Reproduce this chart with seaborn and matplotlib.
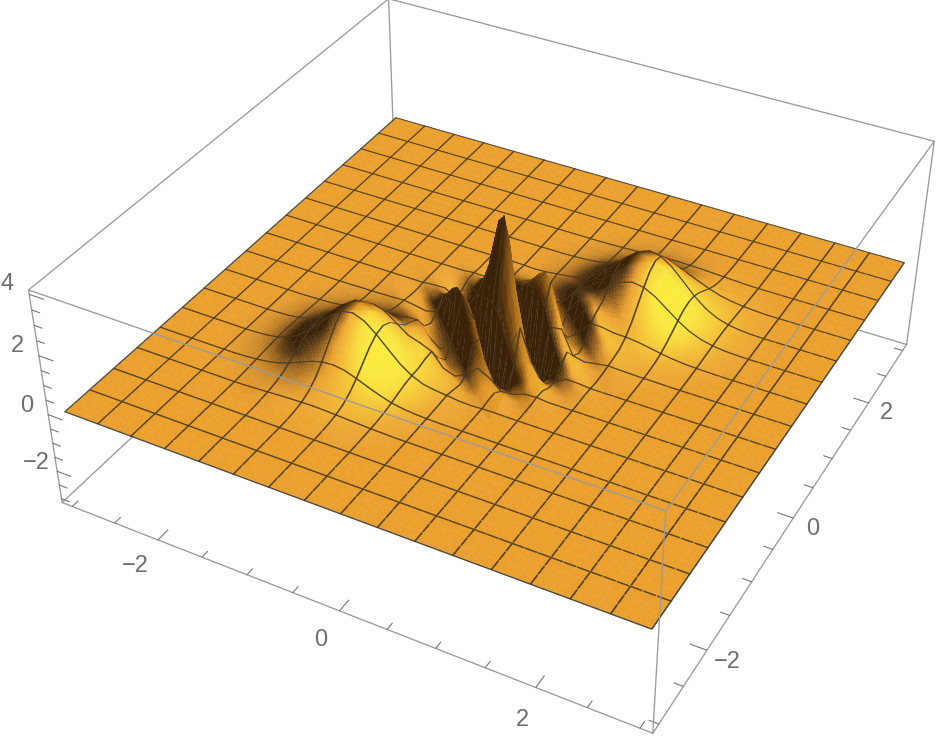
import numpy as np
import matplotlib
matplotlib.use("Agg")
import matplotlib.pyplot as plt
import seaborn as sns
from mpl_toolkits.mplot3d import proj3d
from mpl_toolkits.mplot3d.art3d import Poly3DCollection

sns.set_theme(style="white")
plt.rcParams['font.family'] = ['Liberation Sans', 'DejaVu Sans']

# surface height, on a lattice along the line through the
# two humps (u = x + y) and across it (v = x - y), both in steps of 1/8.
# rows are v = 0, 1/8, 2/8 ...; even rows hold u = 0, 2/8 ..., odd rows u = 1/8, 3/8 ...
height_rows = [
    [4.00, -2.99, 1.23, 0.04, -0.04, 0.68, 1.00, 1.60, 1.89, 1.75, 1.27, 0.71, 0.31, 0.11, 0.03],
    [0.93, -1.99, 1.70, -0.34, 0.55, 0.72, 1.28, 1.73, 1.82, 1.49, 0.95, 0.47, 0.18, 0.06, 0.01],
    [3.53, -2.64, 1.09, 0.04, -0.04, 0.60, 0.88, 1.41, 1.67, 1.54, 1.12, 0.63, 0.27, 0.10, 0.03],
    [0.72, -1.55, 1.32, -0.27, 0.43, 0.56, 1.00, 1.35, 1.42, 1.16, 0.74, 0.37, 0.14, 0.05, 0.01],
    [2.43, -1.81, 0.75, 0.02, -0.02, 0.41, 0.61, 0.97, 1.15, 1.06, 0.77, 0.43, 0.19, 0.07, 0.02],
    [0.44, -0.94, 0.80, -0.16, 0.26, 0.34, 0.60, 0.82, 0.86, 0.71, 0.45, 0.22, 0.09, 0.03, 0.00],
    [1.30, -0.97, 0.40, 0.01, -0.01, 0.22, 0.33, 0.52, 0.61, 0.57, 0.41, 0.23, 0.10, 0.04, 0.01],
    [0.21, -0.44, 0.38, -0.08, 0.12, 0.16, 0.29, 0.39, 0.41, 0.33, 0.21, 0.11, 0.04, 0.01, 0.00],
    [0.54, -0.40, 0.17, 0.01, -0.01, 0.09, 0.14, 0.22, 0.26, 0.24, 0.17, 0.10, 0.04, 0.01, 0.00],
    [0.08, -0.16, 0.14, -0.03, 0.05, 0.06, 0.11, 0.14, 0.15, 0.12, 0.08, 0.04, 0.02, 0.00, 0.00],
    [0.17, -0.13, 0.05, 0.00, 0.00, 0.03, 0.04, 0.07, 0.08, 0.08, 0.06, 0.03, 0.01, 0.00, 0.00],
    [0.02, -0.05, 0.04, -0.02, 0.01, 0.02, 0.03, 0.04, 0.04, 0.04, 0.02, 0.01, 0.00, 0.00, 0.00],
    [0.04, -0.03, 0.01, 0.00, 0.00, 0.01, 0.01, 0.02, 0.02, 0.02, 0.01, 0.01, 0.00, 0.00, 0.00],
    [0.00, -0.01, 0.01, 0.00, 0.00, 0.00, 0.01, 0.01, 0.01, 0.01, 0.00, 0.00, 0.00, 0.00, 0.00],
]
x_values = np.arange(49) / 8 - 3
y_values = np.arange(49) / 8 - 3
x_ticks = np.arange(-3, 3.01, 0.5)
y_ticks = np.arange(-3, 3.01, 0.5)
z_ticks = np.arange(-3, 4.01, 0.5)
x_labels = [-2, 0, 2]
y_labels = [-2, 0, 2]
z_labels = [-2, 0, 2, 4]
mesh_every = 3

# fill the square from the rows, the surface is mirrored in both u and v
n = len(x_values)
Z = np.zeros((n, n))
for i in range(n):
    for j in range(n):
        k = abs(i + j - (n - 1))
        m = abs(i - j)
        pos = (k - m % 2) // 2
        if m < len(height_rows) and pos < len(height_rows[m]):
            Z[i, j] = height_rows[m][pos]
X, Y = np.meshgrid(x_values, y_values, indexing='ij')

xlim = (-3.12, 3.12)
ylim = (-3.12, 3.12)
zlim = (-3.14, 4.14)
elev, azim = 36.2, -61.6

fig = plt.figure(figsize=(9.37, 7.41), dpi=100)
ax = fig.add_axes([32.6 / 937, -49.9 / 741, 918 / 937, 918 / 741], projection='3d', computed_zorder=False)
ax.set_box_aspect((1, 1, 0.4))
ax.set_proj_type('persp', focal_length=0.439)
ax.view_init(elev=elev, azim=azim)
ax.set_xlim(xlim)
ax.set_ylim(ylim)
ax.set_zlim(zlim)
ax.set_axis_off()

cmap = sns.blend_palette(['#3a2208', '#96601a', '#eba02d', '#f5c332', '#faeb3c'], as_cmap=True)

# lighting from the slopes at each lattice point
z_world = 0.4 * (xlim[1] - xlim[0]) / (zlim[1] - zlim[0])
dx = x_values[1] - x_values[0]
dzdx = np.gradient(Z, dx, axis=0) * z_world
dzdy = np.gradient(Z, dx, axis=1) * z_world
norm = np.sqrt(dzdx ** 2 + dzdy ** 2 + 1)
nx, ny = -dzdx / norm, -dzdy / norm
nu = (nx + ny) / np.sqrt(2)
nv = (nx - ny) / np.sqrt(2)
# steepest step to a neighbour, so the narrow crests go dark as well
step_x = np.abs(np.diff(Z, axis=0)) / dx * z_world
step_y = np.abs(np.diff(Z, axis=1)) / dx * z_world
steep = np.zeros_like(Z)
steep[:-1, :] = np.maximum(steep[:-1, :], step_x)
steep[1:, :] = np.maximum(steep[1:, :], step_x)
steep[:, :-1] = np.maximum(steep[:, :-1], step_y)
steep[:, 1:] = np.maximum(steep[:, 1:], step_y)
nz_steep = 1 / np.sqrt(1 + steep ** 2)
shade = np.clip(0.5 + 1.0 * nv + 0.45 * nu - 0.75 * (1 - nz_steep), 0, 1)


def add_tri(a, b, c, polys, cols, parts=4):
    # a, b, c are lattice index pairs; the flat facet is cut up only so its colour can vary
    pa = np.array([X[a], Y[a], Z[a]])
    pb = np.array([X[b], Y[b], Z[b]])
    pc = np.array([X[c], Y[c], Z[c]])
    sa, sb, sc = shade[a], shade[b], shade[c]
    if max(sa, sb, sc) - min(sa, sb, sc) < 0.02:
        polys.append([pa, pb, pc])
        cols.append(cmap((sa + sb + sc) / 3))
        return
    for p in range(parts):
        for q in range(parts - p):
            w1 = np.array([p, q, parts - p - q]) / parts
            w2 = np.array([p + 1, q, parts - p - q - 1]) / parts
            w3 = np.array([p, q + 1, parts - p - q - 1]) / parts
            tri = [w[0] * pa + w[1] * pb + w[2] * pc for w in (w1, w2, w3)]
            mid = (w1 + w2 + w3) / 3
            polys.append(tri)
            cols.append(cmap(mid[0] * sa + mid[1] * sb + mid[2] * sc))
            if p + q < parts - 1:
                w4 = np.array([p + 1, q + 1, parts - p - q - 2]) / parts
                tri = [w[0] * pa + w[1] * pb + w[2] * pc for w in (w2, w4, w3)]
                mid = (w2 + w4 + w3) / 3
                polys.append(tri)
                cols.append(cmap(mid[0] * sa + mid[1] * sb + mid[2] * sc))


polys = []
cols = []
# cells are split along the anti-diagonal, the direction the ridges run in
for i in range(n - 1):
    for j in range(n - 1):
        add_tri((i, j), (i + 1, j), (i, j + 1), polys, cols)
        add_tri((i + 1, j + 1), (i, j + 1), (i + 1, j), polys, cols)

# mesh lines as thin ribbons in the same collection so the ridges hide them,
# nudged toward the camera so they sort in front of their own cells
e, a = np.radians(elev), np.radians(azim)
nudge = 0.012
sx = nudge * np.cos(e) * np.cos(a) * (xlim[1] - xlim[0])
sy = nudge * np.cos(e) * np.sin(a) * (ylim[1] - ylim[0])
sz = nudge * np.sin(e) * (zlim[1] - zlim[0]) / 0.4
w = 0.006
mesh_col = (0.29, 0.23, 0.12, 1)
for i in range(0, n, mesh_every):
    for j in range(n - 1):
        x, y0, y1 = x_values[i], y_values[j], y_values[j + 1]
        polys.append([(x - w + sx, y0 + sy, Z[i, j] + sz), (x + w + sx, y0 + sy, Z[i, j] + sz),
                      (x + w + sx, y1 + sy, Z[i, j + 1] + sz), (x - w + sx, y1 + sy, Z[i, j + 1] + sz)])
        cols.append(mesh_col)
        y, x0, x1 = y_values[i], x_values[j], x_values[j + 1]
        polys.append([(x0 + sx, y - w + sy, Z[j, i] + sz), (x0 + sx, y + w + sy, Z[j, i] + sz),
                      (x1 + sx, y + w + sy, Z[j + 1, i] + sz), (x1 + sx, y - w + sy, Z[j + 1, i] + sz)])
        cols.append(mesh_col)

surf = Poly3DCollection(polys, facecolors=cols, edgecolors=cols, linewidths=0.25, zorder=2)
ax.add_collection3d(surf)

# bounding box
box_col = '#9a9a9a'
box_lw = 0.95
x0, x1 = xlim
y0, y1 = ylim
z0, z1 = zlim
back_edges = [
    ((x0, y0, z0), (x1, y0, z0)), ((x1, y0, z0), (x1, y1, z0)), ((x1, y1, z0), (x0, y1, z0)),
    ((x0, y1, z0), (x0, y0, z0)), ((x0, y0, z0), (x0, y0, z1)), ((x1, y1, z0), (x1, y1, z1)),
    ((x0, y1, z0), (x0, y1, z1)), ((x0, y0, z1), (x0, y1, z1)), ((x0, y1, z1), (x1, y1, z1)),
]
front_edges = [((x0, y0, z1), (x1, y0, z1)), ((x1, y0, z1), (x1, y1, z1)), ((x1, y0, z0), (x1, y0, z1))]
for p, q in back_edges:
    ax.plot(*zip(p, q), color=box_col, lw=box_lw, zorder=1, clip_on=False)
for p, q in front_edges:
    ax.plot(*zip(p, q), color=box_col, lw=box_lw, zorder=3, clip_on=False)

# ticks
for t in x_ticks:
    ln = 0.16 if t in x_labels else 0.09
    ax.plot([t, t], [y0, y0 + ln], [z0, z0], color='#777777', lw=0.8, zorder=1, clip_on=False)
for t in y_ticks:
    ln = 0.16 if t in y_labels else 0.09
    ax.plot([x1, x1 - ln], [t, t], [z0, z0], color='#777777', lw=0.8, zorder=1, clip_on=False)
for t in z_ticks:
    ln = 0.16 if t in z_labels else 0.09
    ax.plot([x0, x0 + ln], [y0, y0], [t, t], color='#777777', lw=0.8, zorder=1, clip_on=False)


def put_label(px, py, pz, value):
    # plain 2D text at the projected spot
    sx2, sy2, _ = proj3d.proj_transform(px, py, pz, ax.get_proj())
    ax.text2D(sx2, sy2, str(value).replace('-', '\u2212'), transform=ax.transData,
              color='#6e6e6e', fontsize=17, ha='center', va='center')


for t in x_labels:
    put_label(t * 1.02, y0 - 0.32, z0 - 0.25, t)
for t in y_labels:
    put_label(x1 + 0.2, t, z0 - 0.15, t)
for t in z_labels:
    put_label(x0 - 0.1, y0 - 0.15, t + 0.5, t)

fig.savefig('out.png', dpi=100, facecolor='white')
